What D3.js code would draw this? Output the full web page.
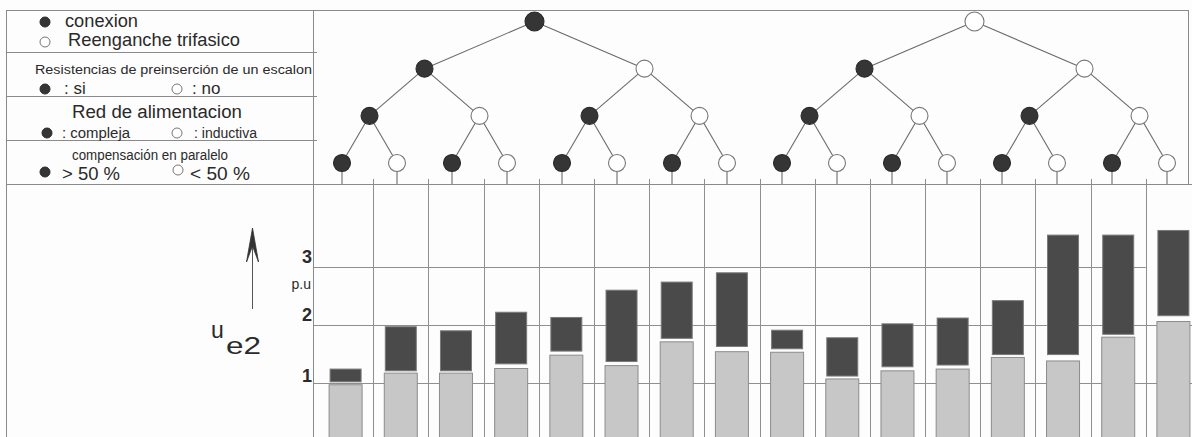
<!DOCTYPE html>
<html>
<head>
<meta charset="utf-8">
<script src="https://cdn.jsdelivr.net/npm/d3@7"></script>
<style>
  html, body { margin: 0; padding: 0; background: #fdfdfd; }
  svg { display: block; }
  text { font-family: "Liberation Sans", Arial, sans-serif; fill: #2a2a2a; }
</style>
</head>
<body>
<svg id="chart" width="1192" height="437"></svg>
<script>
// Switching cases (one per column), grouped by the four yes/no conditions
const cases = ["1","2","3","4","5","6","7","8","9","10","11","12","13","14","15","16"];

// Light bars: lower overvoltage level (p.u.)
const lightValues = [0.97, 1.17, 1.17, 1.25, 1.48, 1.30, 1.71, 1.54,
                     1.53, 1.07, 1.21, 1.24, 1.44, 1.38, 1.79, 2.06];
// Dark bars: range of the upper overvoltage band (p.u.)
const darkLow  = [1.02, 1.21, 1.21, 1.33, 1.55, 1.37, 1.77, 1.63,
                  1.59, 1.12, 1.28, 1.31, 1.49, 1.49, 1.84, 2.16];
const darkHigh = [1.24, 1.97, 1.90, 2.22, 2.13, 2.60, 2.74, 2.90,
                  1.91, 1.78, 2.02, 2.12, 2.42, 3.55, 3.55, 3.63];

const yTicks = [1, 2, 3];

// Decision levels of the tree (first child = filled dot, second = open dot)
const treeLevels = ["conexion", "resistencias", "red", "compensacion"];

const svg = d3.select("#chart");
const W = 1192, H = 437;

const frameColor = "#8a8a8a";
const dark = "#353535";

// ---------- scales ----------
const x = d3.scaleBand().domain(cases).range([318, 1201]).paddingInner(0).paddingOuter(0);
const xLeaf = d3.scalePoint().domain(cases).range([342, 1167]);
const y = d3.scaleLinear().domain([0, 3]).range([441, 267]);
const yLevel = d3.scalePoint().domain(d3.range(1, treeLevels.length + 1)).range([21.5, 163]);

// ---------- frame ----------
const frame = svg.append("g").attr("stroke", frameColor).attr("stroke-width", 1).attr("fill", "none");
frame.append("line").attr("x1", 6).attr("x2", 1188).attr("y1", 10.5).attr("y2", 10.5);
frame.append("line").attr("x1", 6.5).attr("x2", 6.5).attr("y1", 10).attr("y2", H);
frame.append("line").attr("x1", 313.5).attr("x2", 313.5).attr("y1", 10).attr("y2", H);
frame.append("line").attr("x1", 1188.5).attr("x2", 1188.5).attr("y1", 10).attr("y2", 184);
frame.append("line").attr("x1", 6).attr("x2", W).attr("y1", 184.5).attr("y2", 184.5);
[52.5, 96.5, 140.5].forEach(yy =>
  frame.append("line").attr("x1", 6).attr("x2", 317).attr("y1", yy).attr("y2", yy));

// ---------- grid of the bar panel ----------
const grid = svg.append("g").attr("stroke", "#8f8f8f").attr("stroke-width", 1);
grid.selectAll("line.col")
  .data(cases.slice(1))
  .join("line")
  .attr("class", "col")
  .attr("x1", d => Math.round(x(d)) + 0.5)
  .attr("x2", d => Math.round(x(d)) + 0.5)
  .attr("y1", 179).attr("y2", H);
grid.selectAll("line.row")
  .data(yTicks)
  .join("line")
  .attr("class", "row")
  .attr("x1", 313)
  .attr("x2", d => d === 3 ? x(cases[cases.length - 1]) : W)
  .attr("y1", d => Math.round(y(d)) + 0.5)
  .attr("y2", d => Math.round(y(d)) + 0.5);

// ---------- bars ----------
const bw = x.bandwidth();
const barW = 33;
const bars = svg.append("g");
bars.selectAll("rect.light")
  .data(cases)
  .join("rect")
  .attr("class", "light")
  .attr("x", d => x(d) + (bw - barW) / 2)
  .attr("width", barW)
  .attr("y", (d, i) => y(lightValues[i]))
  .attr("height", (d, i) => y(0) - y(lightValues[i]))
  .attr("fill", "#c7c7c7")
  .attr("stroke", "#8c8c8c")
  .attr("stroke-width", 1);
bars.selectAll("rect.dark")
  .data(cases)
  .join("rect")
  .attr("class", "dark")
  .attr("x", d => x(d) + (bw - barW + 2) / 2)
  .attr("width", barW - 2)
  .attr("y", (d, i) => y(darkHigh[i]))
  .attr("height", (d, i) => y(darkLow[i]) - y(darkHigh[i]))
  .attr("fill", "#4a4a4a")
  .attr("stroke", "#7a7a7a")
  .attr("stroke-width", 1);

// ---------- y labels ----------
const yl = svg.append("g");
yl.selectAll("text.tick")
  .data(yTicks)
  .join("text")
  .attr("class", "tick")
  .attr("x", 312)
  .attr("y", d => y(d) - (d === 1 ? 1 : 4))
  .attr("text-anchor", "end")
  .attr("font-size", 18)
  .attr("font-weight", "bold")
  .text(d => d);
yl.append("text").attr("x", 311).attr("y", 289).attr("text-anchor", "end")
  .attr("font-size", 14).text("p.u");

// axis arrow
const ax = 252.5;
yl.append("line").attr("x1", ax).attr("x2", ax).attr("y1", 309).attr("y2", 230)
  .attr("stroke", "#555").attr("stroke-width", 1);
yl.append("path")
  .attr("d", `M${ax - 6},262 L${ax},228 L${ax + 6},262 L${ax},246 Z`)
  .attr("fill", "#333").attr("stroke", "#333").attr("stroke-width", 0.8).attr("stroke-linejoin", "miter");

yl.append("text").attr("x", 211).attr("y", 338).attr("font-size", 23).text("u");
yl.append("text").attr("x", 226).attr("y", 354).attr("font-size", 24)
  .attr("textLength", 35).attr("lengthAdjust", "spacingAndGlyphs").text("e2");

// ---------- decision tree ----------
function buildLevel(depth) {
  if (depth > treeLevels.length) return null;
  return [0, 1].map(k => {
    const kids = buildLevel(depth + 1);
    return kids ? { filled: k === 0, children: kids } : { filled: k === 0 };
  });
}
const root = d3.hierarchy({ children: buildLevel(1) });
const leaves = root.leaves();
leaves.forEach((leaf, i) => { leaf.px = xLeaf(cases[i]); });
root.eachAfter(n => {
  if (n.children) n.px = d3.mean(n.children, c => c.px);
  n.py = n.depth > 0 ? yLevel(n.depth) : 0;
});
const nodes = root.descendants().filter(n => n.depth > 0);
const links = root.links().filter(l => l.source.depth > 0);

const tree = svg.append("g");
tree.selectAll("line.edge")
  .data(links)
  .join("line")
  .attr("class", "edge")
  .attr("x1", d => d.source.px).attr("y1", d => d.source.py)
  .attr("x2", d => d.target.px).attr("y2", d => d.target.py)
  .attr("stroke", "#6a6a6a").attr("stroke-width", 1.1);
tree.selectAll("line.stem")
  .data(leaves)
  .join("line")
  .attr("class", "stem")
  .attr("x1", d => d.px).attr("x2", d => d.px)
  .attr("y1", d => d.py).attr("y2", 184)
  .attr("stroke", "#6a6a6a").attr("stroke-width", 1.1);
tree.selectAll("circle.node")
  .data(nodes)
  .join("circle")
  .attr("class", "node")
  .attr("cx", d => d.px).attr("cy", d => d.py)
  .attr("r", d => d.depth === 1 ? 9.5 : 8.5)
  .attr("fill", d => d.data.filled ? dark : "#ffffff")
  .attr("stroke", d => d.data.filled ? "#2a2a2a" : "#777")
  .attr("stroke-width", 1.1);

// ---------- legend ----------
const legend = svg.append("g");
function dot(cx, cy, filled) {
  legend.append("circle").attr("cx", cx).attr("cy", cy).attr("r", 5)
    .attr("fill", filled ? dark : "#fff")
    .attr("stroke", filled ? "#2a2a2a" : "#777").attr("stroke-width", 1);
}
function label(tx, ty, size, str, len) {
  const t = legend.append("text").attr("x", tx).attr("y", ty).attr("font-size", size).text(str);
  if (len) t.attr("textLength", len).attr("lengthAdjust", "spacingAndGlyphs");
  return t;
}
dot(45, 22, true);   label(65, 27, 18, "conexion", 73);
dot(45, 42, false);  label(68, 46, 19, "Reenganche trifasico", 172);

label(35, 74, 12, "Resistencias de preinserción de un escalon", 277);
dot(45, 89, true);   label(64, 94, 17, ": si");
dot(177, 89, false); label(192, 94, 17, ": no");

label(72, 118, 18, "Red de alimentacion", 170);
dot(47, 133, true);  label(62, 138, 14, ": compleja", 68);
dot(177, 133, false); label(194, 138, 14, ": inductiva", 63);

label(72, 160, 14, "compensación en paralelo", 156);
dot(45, 172, true);  label(62, 180, 18, "> 50 %", 58);
dot(178, 170, false); label(190, 180, 18, "< 50 %", 60);
</script>
</body>
</html>
